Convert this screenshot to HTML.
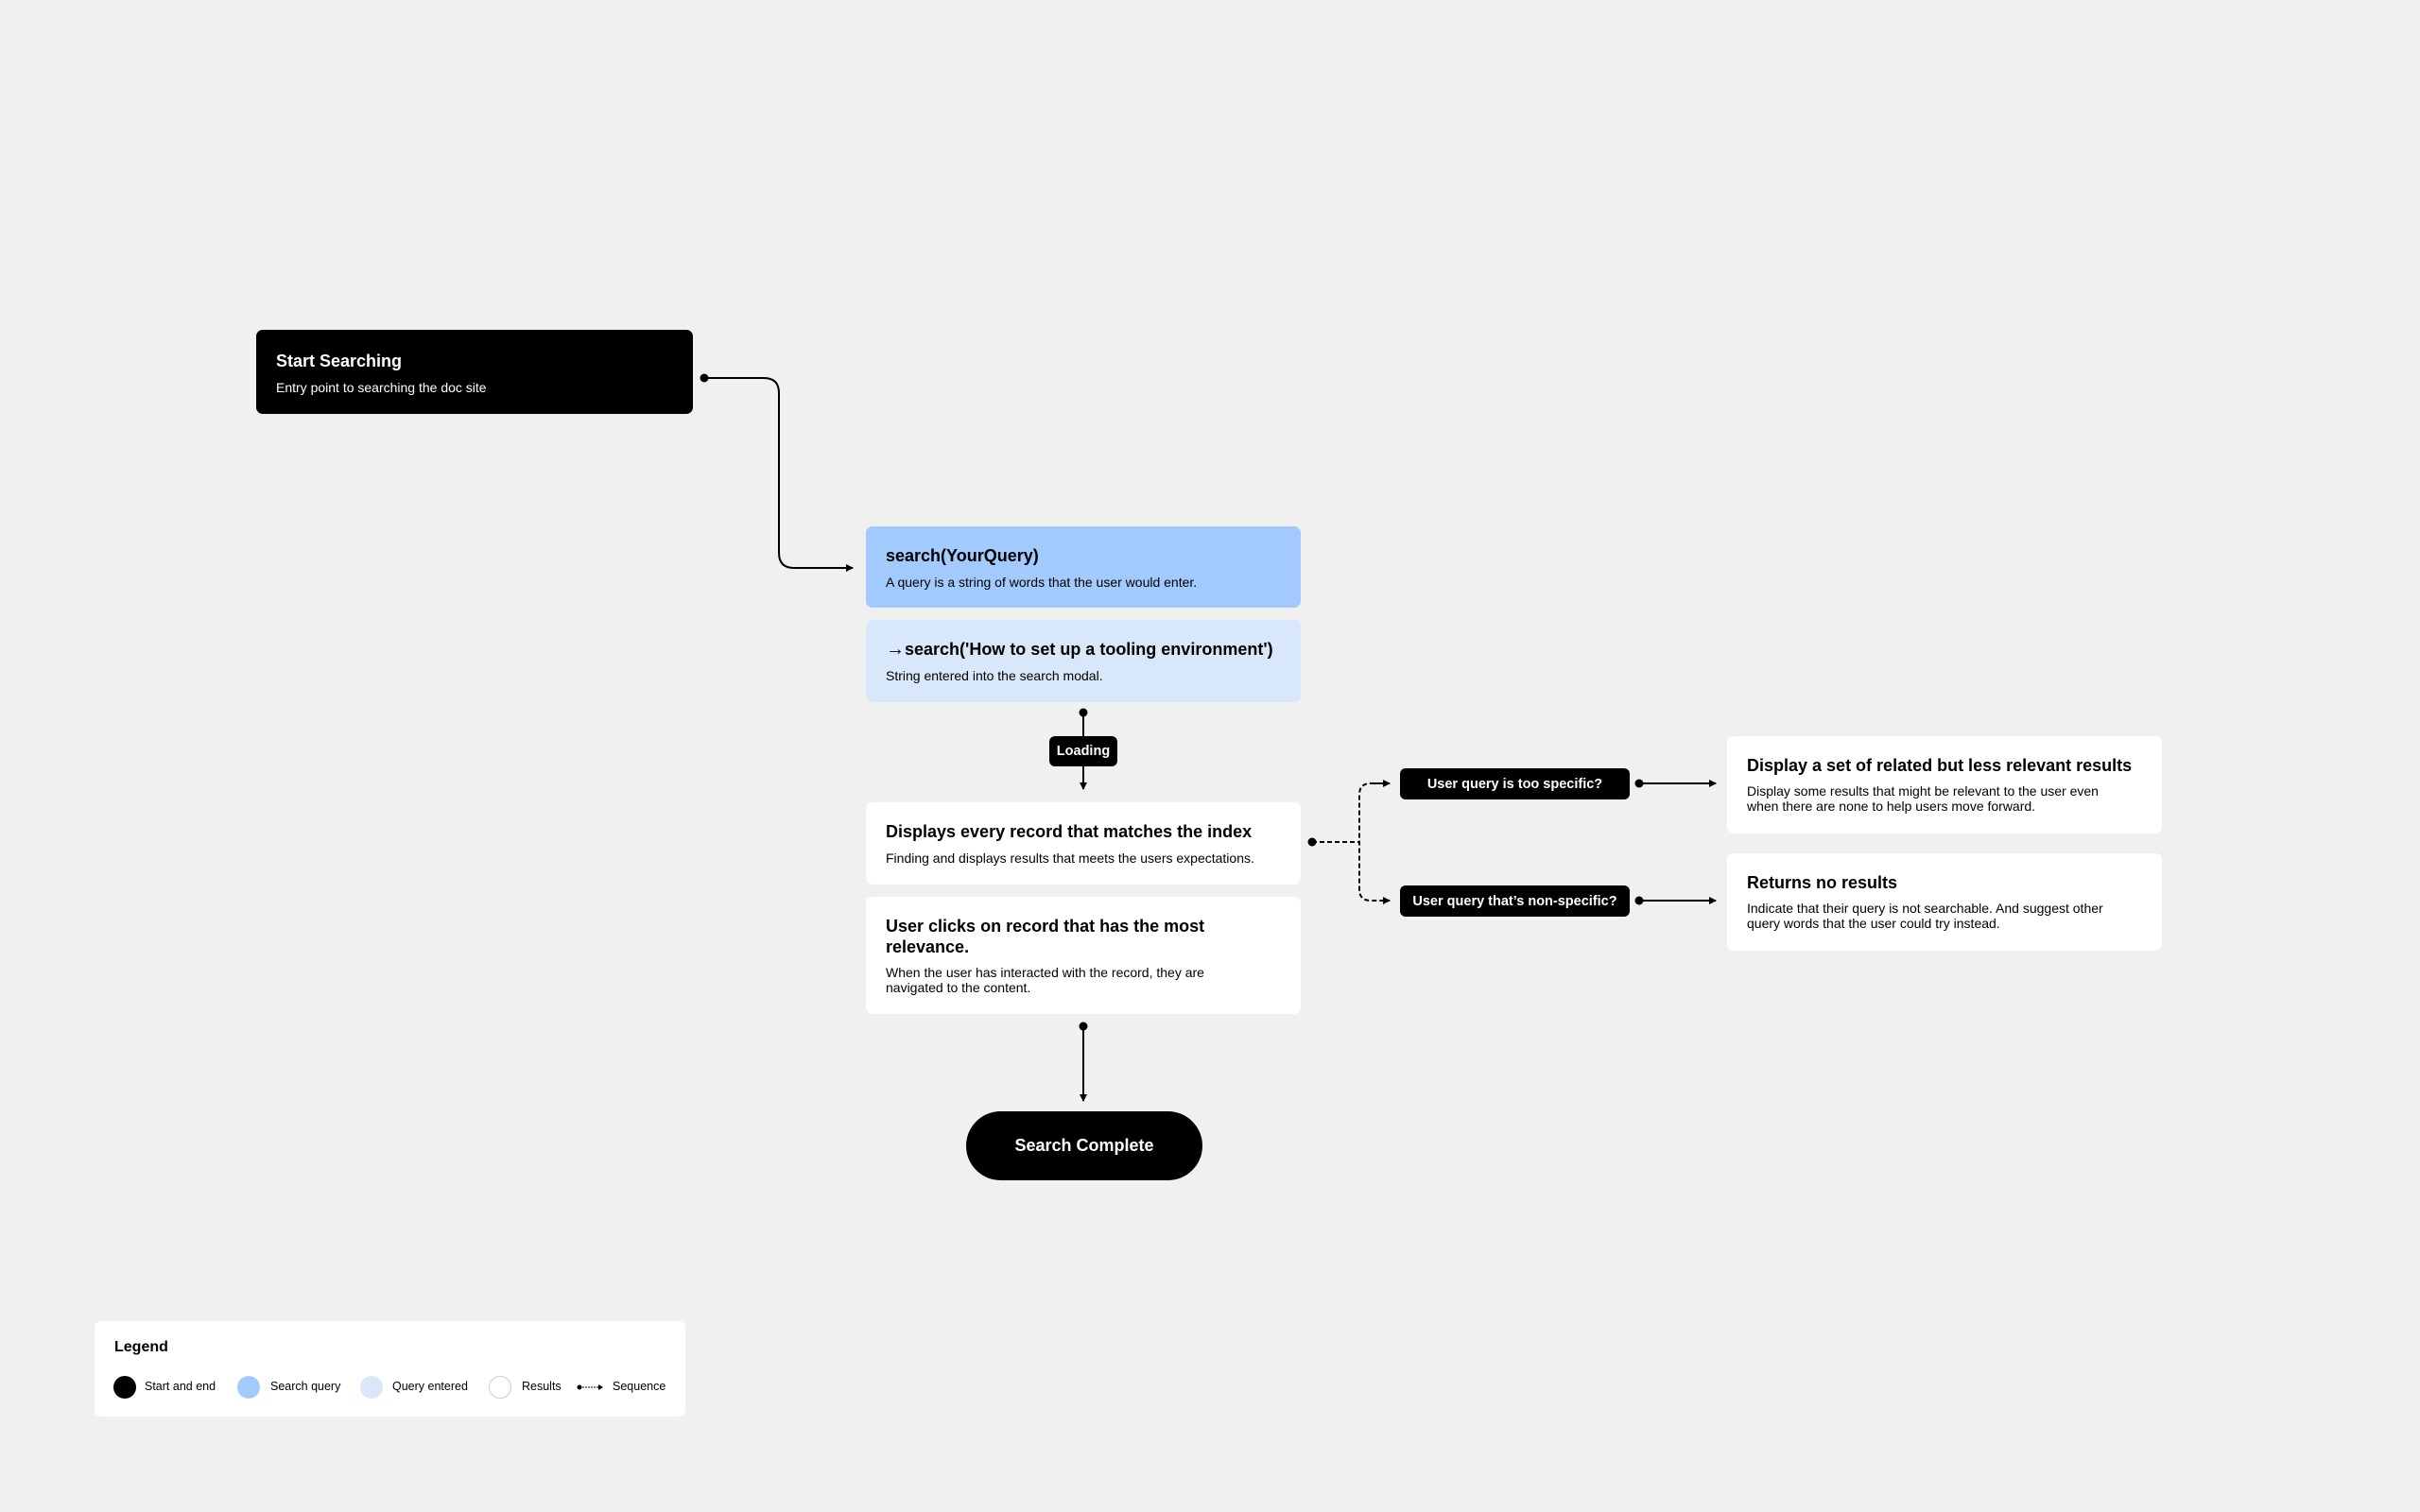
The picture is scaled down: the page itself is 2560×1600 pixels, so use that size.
<!DOCTYPE html>
<html><head><meta charset="utf-8"><style>
*{margin:0;padding:0;box-sizing:border-box}
body{width:2560px;height:1600px;background:#f0f0f0;position:relative;overflow:hidden;font-family:"Liberation Sans",sans-serif;color:#000}
.b{position:absolute;border-radius:7px;padding-left:21px}
.t{position:absolute;left:21px;font-size:18px;font-weight:bold;white-space:nowrap;line-height:22px}
.s{position:absolute;left:21px;font-size:14px;white-space:nowrap;line-height:16px}
.d{position:absolute;background:#000;color:#fff;border-radius:6px;font-size:14.5px;font-weight:bold;display:flex;align-items:center;justify-content:center}
.lg{position:absolute;font-size:12.5px;top:1460px;white-space:nowrap}
.c{position:absolute;width:24px;height:24px;border-radius:50%;top:1456px}
</style></head><body>
<svg width="2560" height="1600" style="position:absolute;left:0;top:0">
<defs><marker id="a" markerWidth="8" markerHeight="8" refX="7" refY="4" orient="auto" markerUnits="userSpaceOnUse"><path d="M0,0 L8,4 L0,8 z" fill="#000"/></marker></defs>
<g stroke="#000" stroke-width="2" fill="none">
<path d="M745,400 H808 Q824,400 824,416 V585 Q824,601 840,601 H902" marker-end="url(#a)"/>
<path d="M1146,754 V779"/>
<path d="M1146,811 V835" marker-end="url(#a)"/>
<path d="M1146,1086 V1165" marker-end="url(#a)"/>
<path d="M1388,891 H1438" stroke-dasharray="5,3"/>
<path d="M1470,829 H1450 Q1438,829 1438,841 V941 Q1438,953 1450,953 H1470" stroke-dasharray="5,3" marker-end="url(#a)"/>
<path d="M1450,829 H1470" marker-end="url(#a)"/>
<path d="M1734,829 H1815" marker-end="url(#a)"/>
<path d="M1734,953 H1815" marker-end="url(#a)"/>
</g>
<g fill="#000">
<circle cx="745" cy="400" r="4.5"/><circle cx="1146" cy="754" r="4.5"/><circle cx="1146" cy="1086" r="4.5"/>
<circle cx="1388" cy="891" r="4.5"/><circle cx="1734" cy="829" r="4.5"/><circle cx="1734" cy="953" r="4.5"/>
</g>
</svg>

<div class="b" style="left:271px;top:349px;width:462px;height:89px;background:#000;color:#fff">
<div class="t" style="top:22px;color:#fff">Start Searching</div>
<div class="s" style="top:53px;color:#fff">Entry point to searching the doc site</div></div>

<div class="b" style="left:916px;top:557px;width:460px;height:86px;background:#a2cafd">
<div class="t" style="top:20px">search(YourQuery)</div>
<div class="s" style="top:51px">A query is a string of words that the user would enter.</div></div>

<div class="b" style="left:916px;top:656px;width:460px;height:87px;background:#d9e7fa">
<div class="t" style="top:20px"><span style="font-size:20px">→</span>search('How to set up a tooling environment')</div>
<div class="s" style="top:51px">String entered into the search modal.</div></div>

<div class="d" style="left:1110px;top:779px;width:72px;height:32px">Loading</div>

<div class="b" style="left:916px;top:849px;width:460px;height:87px;background:#fff">
<div class="t" style="top:20px">Displays every record that matches the index</div>
<div class="s" style="top:51px">Finding and displays results that meets the users expectations.</div></div>

<div class="b" style="left:916px;top:949px;width:460px;height:124px;background:#fff">
<div class="t" style="top:20px;line-height:22px">User clicks on record that has the most<br>relevance.</div>
<div class="s" style="top:72px;line-height:16px">When the user has interacted with the record, they are<br>navigated to the content.</div></div>

<div class="d" style="left:1022px;top:1176px;width:250px;height:73px;border-radius:37px;font-size:18px">Search Complete</div>

<div class="d" style="left:1481px;top:813px;width:243px;height:33px">User query is too specific?</div>
<div class="d" style="left:1481px;top:937px;width:243px;height:33px">User query that’s non-specific?</div>

<div class="b" style="left:1827px;top:779px;width:460px;height:103px;background:#fff">
<div class="t" style="top:20px">Display a set of related but less relevant results</div>
<div class="s" style="top:50px">Display some results that might be relevant to the user even<br>when there are none to help users move forward.</div></div>

<div class="b" style="left:1827px;top:903px;width:460px;height:103px;background:#fff">
<div class="t" style="top:20px">Returns no results</div>
<div class="s" style="top:50px">Indicate that their query is not searchable. And suggest other<br>query words that the user could try instead.</div></div>

<div class="b" style="left:100px;top:1398px;width:625px;height:101px;background:#fff">
<div class="t" style="top:17px;font-size:16px;font-weight:bold">Legend</div></div>
<div class="c" style="left:120px;background:#000"></div><div class="lg" style="left:153px">Start and end</div>
<div class="c" style="left:251px;background:#a2cafd"></div><div class="lg" style="left:286px">Search query</div>
<div class="c" style="left:381px;background:#d9e7fa"></div><div class="lg" style="left:415px">Query entered</div>
<div class="c" style="left:517px;background:#fff;border:1px solid #ccc"></div><div class="lg" style="left:552px">Results</div>
<svg style="position:absolute;left:610px;top:1462px" width="30" height="12"><circle cx="3" cy="6" r="2.5"/><path d="M3,6 H24" stroke="#000" stroke-width="1" stroke-dasharray="2,1"/><path d="M23,3 L28,6 L23,9z"/></svg>
<div class="lg" style="left:648px">Sequence</div>
</body></html>
